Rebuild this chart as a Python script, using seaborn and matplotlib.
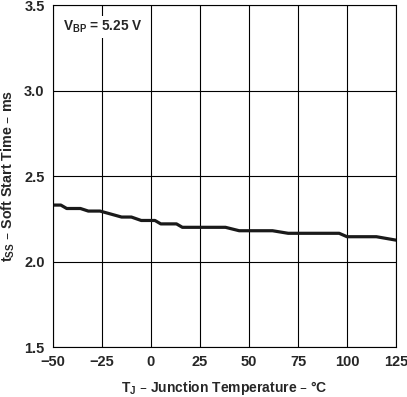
import numpy as np
import pandas as pd
import matplotlib
matplotlib.use("Agg")
import matplotlib.pyplot as plt
import seaborn as sns

# junction temperature (C) and soft start time (ms)
temp = [-50, -46, -43, -36, -32, -26, -15, -10, -5, 2, 5, 13, 16, 38, 45, 62, 70, 96, 100, 115, 125]
t_ss = [2.33, 2.33, 2.31, 2.31, 2.295, 2.295, 2.26, 2.26, 2.24, 2.24, 2.22, 2.22, 2.20, 2.20,
        2.18, 2.18, 2.165, 2.165, 2.145, 2.145, 2.125]
x_ticks = [-50, -25, 0, 25, 50, 75, 100, 125]
x_labels = ["\u221250", "\u221225", "0", "25", "50", "75", "100", "125"]
y_ticks = [1.5, 2.0, 2.5, 3.0, 3.5]

df = pd.DataFrame({"T": temp, "tss": t_ss})

sns.set_style("white")
plt.rcParams["font.family"] = ["Liberation Sans", "DejaVu Sans"]
plt.rcParams["mathtext.default"] = "bf"

fig = plt.figure(figsize=(4.07, 3.97), dpi=100)
ax = fig.add_axes([0.1302, 0.1259, 0.8428, 0.8615])

sns.lineplot(data=df, x="T", y="tss", ax=ax, color="#1a1a1a", linewidth=2.3)

ax.set_xlim(-50, 125)
ax.set_ylim(1.5, 3.5)
ax.set_xticks(x_ticks)
ax.set_xticklabels(x_labels)
ax.set_yticks(y_ticks)
ax.set_yticklabels(["%.1f" % v for v in y_ticks])
ax.tick_params(axis="x", length=0, labelsize=10.5, pad=6)
ax.tick_params(axis="y", length=0, labelsize=10.5, pad=6)
for lab in ax.get_xticklabels() + ax.get_yticklabels():
    lab.set_fontweight("bold")
ax.grid(True, color="black", linewidth=0.8)
for s in ax.spines.values():
    s.set_color("black")
    s.set_linewidth(0.8)

ax.set_xlabel("T$_\\mathregular{J}$ \u2013 Junction Temperature \u2013 \u00b0C",
              fontsize=10, fontweight="bold", labelpad=7)
ax.set_ylabel("t$_\\mathregular{SS}$ \u2013 Soft Start Time \u2013 ms",
              fontsize=10.3, fontweight="bold", labelpad=5)

ax.text(-45, 3.37, "V$_\\mathregular{BP}$ = 5.25 V", fontsize=9.8, fontweight="bold",
        va="center", ha="left", bbox=dict(facecolor="white", edgecolor="none", pad=2))

fig.savefig("out.png", dpi=100)
